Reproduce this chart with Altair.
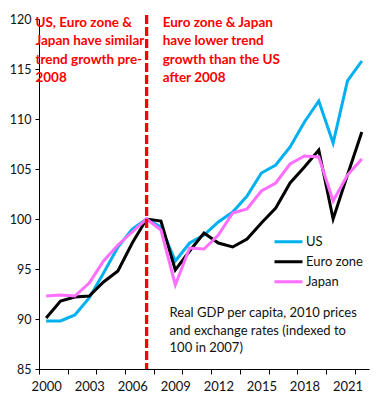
import altair as alt
import pandas as pd

years = list(range(2000, 2023))
us = [89.8, 89.8, 90.4, 92.1, 94.6, 97.2, 99.0, 100.0, 99.2, 95.8, 97.6, 98.4,
      99.7, 100.7, 102.3, 104.6, 105.4, 107.2, 109.7, 111.8, 107.6, 113.8, 115.8]
euro = [90.1, 91.8, 92.2, 92.3, 93.7, 94.8, 97.6, 100.0, 99.8, 94.9, 96.8, 98.6,
        97.6, 97.2, 98.0, 99.6, 101.1, 103.6, 105.2, 106.9, 100.0, 104.4, 108.7]
japan = [92.3, 92.4, 92.3, 93.6, 95.8, 97.4, 98.7, 100.0, 98.9, 93.4, 97.1, 97.0,
         98.4, 100.6, 101.0, 102.8, 103.6, 105.5, 106.3, 106.2, 101.8, 104.4, 106.0]
series = ["US", "Euro zone", "Japan"]
colors = ["#00B0F0", "#000000", "#FF6EFF"]

x_labels = [2000, 2003, 2006, 2009, 2012, 2015, 2018, 2021]
x_ticks = [1999.5 + 2 * i for i in range(12)]
y_ticks = [85, 90, 95, 100, 105, 110, 115, 120]
break_year = [2007]

left_note = ["US, Euro zone &", "Japan have similar", "trend growth pre-", "2008"]
right_note = ["Euro zone & Japan", "have lower trend", "growth than the US", "after 2008"]
source_note = ["Real GDP per capita, 2010 prices", "and exchange rates (indexed to", "100  in 2007)"]

FONT = "Lato"

df = pd.DataFrame({
    "year": years * 3,
    "value": us + euro + japan,
    "series": ["US"] * len(us) + ["Euro zone"] * len(euro) + ["Japan"] * len(japan),
})

x_scale = alt.Scale(domain=[1999.5, 2022.5], nice=False, zero=False)
y_scale = alt.Scale(domain=[85, 120], nice=False, zero=False)

lines = alt.Chart(df).mark_line(strokeWidth=3).encode(
    x=alt.X("year:Q", scale=x_scale, title=None,
            axis=alt.Axis(values=x_labels, ticks=False, tickSize=0, labelPadding=11,
                          format="d", domain=True, domainColor="#000", grid=False,
                          labelFont=FONT, labelFontSize=13, labelColor="#111",
                          orient="bottom", labelFlush=False)),
    y=alt.Y("value:Q", scale=y_scale, title=None,
            axis=alt.Axis(values=y_ticks, tickSize=4, labelPadding=4, grid=False,
                          domainColor="#000", tickColor="#000", labelFont=FONT,
                          labelFontSize=12.5, labelColor="#111")),
    color=alt.Color("series:N", scale=alt.Scale(domain=series, range=colors),
                    legend=alt.Legend(title=None, orient="none", legendX=234, legendY=214,
                                      symbolType="stroke", symbolSize=784,
                                      symbolStrokeWidth=3, clipHeight=17.5, rowPadding=2,
                                      labelFont=FONT, labelFontSize=13, labelColor="#111",
                                      labelOffset=2, padding=0)),
)

vline = alt.Chart(pd.DataFrame({"year": break_year})).mark_rule(
    color="#FF0000", strokeWidth=3.3, strokeDash=[9, 3]
).encode(
    x=alt.X("year:Q", scale=x_scale, title=None,
            axis=alt.Axis(values=x_ticks, labels=False, domain=False, ticks=True,
                          tickSize=5, tickColor="#000", grid=False, orient="bottom")),
    y=alt.datum(120.4),
    y2=alt.datum(85),
)

one = alt.Data(values=[{}])

txt_left = alt.Chart(one).mark_text(
    text=left_note, align="left", baseline="alphabetic", font=FONT, fontSize=13.5,
    fontWeight="bold", color="#FF0000", lineHeight=18.3
).encode(x=alt.XDatum(1999.25, axis=None), y=alt.YDatum(119.2))

txt_right = alt.Chart(one).mark_text(
    text=right_note, align="left", baseline="alphabetic", font=FONT, fontSize=13.5,
    fontWeight="bold", color="#FF0000", lineHeight=18.3
).encode(x=alt.XDatum(2008.12, axis=None), y=alt.YDatum(119.2))

txt_src = alt.Chart(one).mark_text(
    text=source_note, align="left", baseline="alphabetic", font=FONT, fontSize=13,
    color="#111", lineHeight=17.7
).encode(x=alt.XDatum(2008.6, axis=None), y=alt.YDatum(90.2))

chart = alt.layer(lines, vline, txt_left, txt_right, txt_src).resolve_axis(
    x="independent"
).properties(
    width=330, height=350,
    padding={"left": 31, "top": 11, "right": 5, "bottom": 23},
    autosize=alt.AutoSizeParams(type="none"),
).configure_view(stroke=None)

chart.save("out.html", embed_options={"renderer": "svg", "actions": False})
